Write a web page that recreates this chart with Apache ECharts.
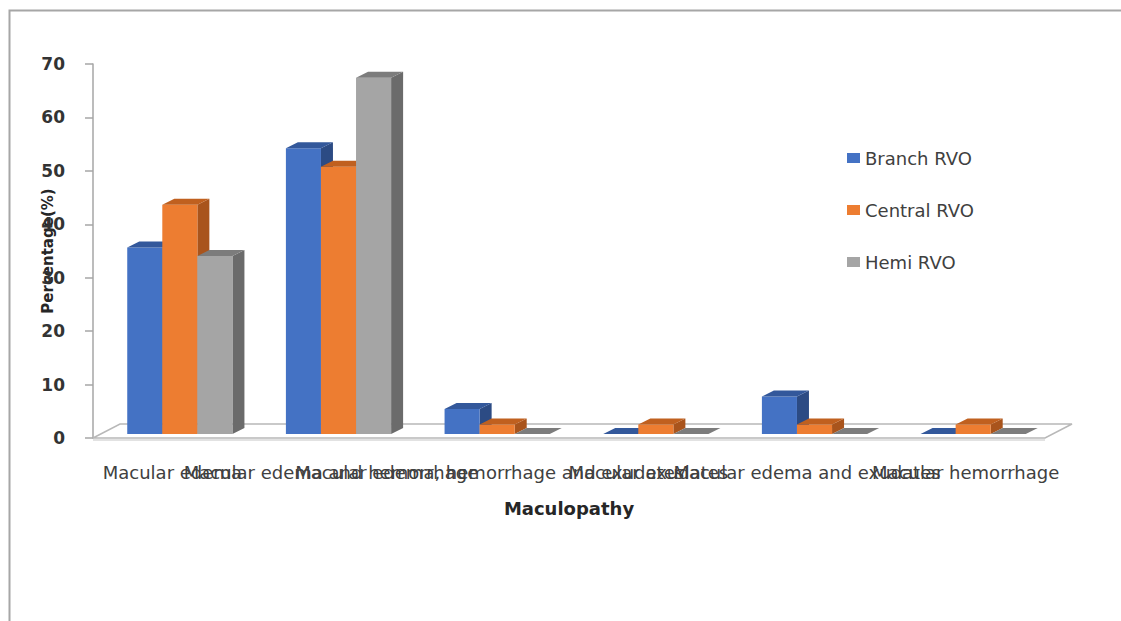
<!DOCTYPE html>
<html>
<head>
<meta charset="utf-8">
<script src="https://cdn.jsdelivr.net/npm/echarts@6/dist/echarts.min.js"></script>
<style>
  html, body { margin: 0; padding: 0; background: #ffffff; }
  #chart { width: 1121px; height: 621px; }
</style>
</head>
<body>
<div id="chart"></div>
<script>
// Maculopathy by type of retinal vein occlusion (percentage of eyes)
const categories = [
  'Macular edema',
  'Macular edema and hemorrhage',
  'Macular edema, hemorrhage and exudates',
  'Macular exudates',
  'Macular edema and exudates',
  'Macular hemorrhage'
];
const seriesNames = ['Branch RVO', 'Central RVO', 'Hemi RVO'];
const branchRVO  = [34.9, 53.5, 4.7, 0, 7.0, 0];
const centralRVO = [42.9, 50.0, 1.8, 1.8, 1.8, 1.8];
const hemiRVO    = [33.3, 66.7, 0, 0, 0, 0];
const yMin = 0, yMax = 70, yStep = 10;

const FONT = 'DejaVu Sans';

// 3-D look: floor depth, box depth, and where the boxes sit inside the floor
const FLOOR_DX = 27, FLOOR_DY = 14;
const BOX_DX = 12, BOX_DY = 6;
const SHIFT_X = (FLOOR_DX - BOX_DX) / 2, SHIFT_Y = (FLOOR_DY - BOX_DY) / 2;
const BAR_FRACTION = 0.221;   // front-face width as a share of one category band

const palette = [
  { face: '#4472C4', side: '#2C4B84', top: '#33589B' },
  { face: '#ED7D31', side: '#A9541C', top: '#C0601F' },
  { face: '#A5A5A5', side: '#6B6B6B', top: '#7C7C7C' }
];

function boxRenderer(k) {
  const c = palette[k];
  return function (params, api) {
    const i = api.value(0);
    const v = api.value(1);
    const band = api.size([1, 0])[0];
    const w = band * BAR_FRACTION;
    const base = api.coord([i, 0]);
    const tip = api.coord([i, v]);
    const x0 = base[0] - 1.5 * w + k * w + SHIFT_X;
    const yBot = base[1] - SHIFT_Y;
    const yTop = tip[1] - SHIFT_Y;
    const x1 = x0 + w;
    return {
      type: 'group',
      children: [
        {
          type: 'polygon',
          shape: { points: [[x1, yTop], [x1 + BOX_DX, yTop - BOX_DY], [x1 + BOX_DX, yBot - BOX_DY], [x1, yBot]] },
          style: { fill: c.side }
        },
        {
          type: 'rect',
          shape: { x: x0, y: yTop, width: w, height: yBot - yTop },
          style: { fill: c.face }
        },
        {
          type: 'polygon',
          shape: { points: [[x0, yTop], [x1, yTop], [x1 + BOX_DX, yTop - BOX_DY], [x0 + BOX_DX, yTop - BOX_DY]] },
          style: { fill: c.top }
        }
      ]
    };
  };
}

function floorRenderer(params, api) {
  const cs = params.coordSys;
  const xl = cs.x, xr = cs.x + cs.width, yb = cs.y + cs.height;
  return {
    type: 'group',
    children: [
      {
        type: 'polygon',
        shape: { points: [[xl, yb], [xr, yb], [xr + FLOOR_DX, yb - FLOOR_DY], [xl + FLOOR_DX, yb - FLOOR_DY]] },
        style: { fill: '#ffffff', stroke: '#B8B8B8', lineWidth: 1.5 }
      },
      {
        type: 'line',
        shape: { x1: xl, y1: yb + 2, x2: xr, y2: yb + 2 },
        style: { stroke: '#D9D9D9', lineWidth: 1.5 }
      }
    ]
  };
}

const seriesData = [branchRVO, centralRVO, hemiRVO];
const series = [{
  type: 'custom',
  name: 'floor',
  silent: true,
  renderItem: floorRenderer,
  data: [[0, 0]],
  encode: { x: 0, y: 1 },
  z: 1
}];
seriesData.forEach(function (vals, k) {
  series.push({
    type: 'custom',
    name: seriesNames[k],
    renderItem: boxRenderer(k),
    itemStyle: { color: palette[k].face },
    data: vals.map(function (v, i) { return [i, v]; }),
    encode: { x: 0, y: 1 },
    z: 2
  });
});

const chart = echarts.init(document.getElementById('chart'), null, { renderer: 'svg' });
chart.setOption({
  animation: false,
  backgroundColor: '#ffffff',
  textStyle: { fontFamily: FONT },
  graphic: [{
    type: 'rect',
    shape: { x: 9.5, y: 10.5, width: 1125, height: 700 },
    style: { fill: 'none', stroke: '#A6A6A6', lineWidth: 2 },
    silent: true
  }],
  grid: { left: 93, width: 952, top: 64, bottom: 183, containLabel: false },
  legend: {
    data: seriesNames,
    orient: 'vertical',
    left: 842,
    top: 143,
    icon: 'rect',
    itemWidth: 13,
    itemHeight: 10,
    itemGap: 32,
    textStyle: { fontFamily: FONT, fontSize: 18, color: '#404040', lineHeight: 20 }
  },
  xAxis: {
    type: 'category',
    data: categories,
    name: 'Maculopathy',
    nameLocation: 'middle',
    nameGap: 61,
    nameMoveOverlap: false,
    nameTextStyle: { fontFamily: FONT, fontSize: 18, fontWeight: 'bold', color: '#262626' },
    axisLine: { show: false },
    axisTick: { show: false },
    splitLine: { show: false },
    axisLabel: {
      interval: 0,
      margin: 25,
      hideOverlap: false,
      fontFamily: FONT,
      fontSize: 18,
      color: '#404040'
    }
  },
  yAxis: {
    type: 'value',
    min: yMin,
    max: yMax,
    interval: yStep,
    name: 'Percentage(%)',
    nameLocation: 'middle',
    nameGap: 38,
    nameMoveOverlap: false,
    nameTextStyle: { fontFamily: FONT, fontSize: 15, fontWeight: 'bold', color: '#262626' },
    axisLine: { show: true, lineStyle: { color: '#A6A6A6', width: 1.5 } },
    axisTick: { show: true, inside: false, length: 8, lineStyle: { color: '#A6A6A6', width: 1.5 } },
    splitLine: { show: false },
    axisLabel: {
      margin: 28,
      fontFamily: FONT,
      fontSize: 17,
      fontWeight: 'bold',
      color: '#333333'
    }
  },
  series: series
});
</script>
</body>
</html>
